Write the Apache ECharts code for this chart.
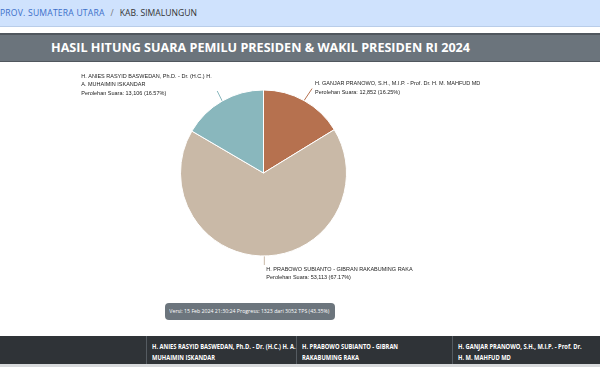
<!DOCTYPE html>
<html>
<head>
<meta charset="utf-8">
<script src="https://cdn.jsdelivr.net/npm/echarts@6/dist/echarts.min.js"></script>
<style>
  html, body { margin:0; padding:0; width:600px; height:367px; overflow:hidden; background:#fff; font-family:"Open Sans", sans-serif; }
  #crumb { position:absolute; left:0; top:0; width:600px; height:27px; background:#cfe2fd; border-bottom:1px solid #b9cde9; box-sizing:border-box; font-size:8.6px; line-height:27px; color:#333; white-space:nowrap; }
  #crumb .a { color:#3b6fc9; letter-spacing:0.2px; }
  #crumb .sep { color:#777; padding:0 6px 0 6px; }
  #title { position:absolute; left:0; top:33px; width:600px; height:29px; background:#6b747c; border-top:2px solid #50575e; border-bottom:1px solid #50575e; box-sizing:border-box; color:#fff; font-weight:700; font-size:12.6px; line-height:26px; padding-left:51px; white-space:nowrap; }
  #badge { position:absolute; left:165px; top:303px; width:170px; height:17px; background:#6c757d; border-radius:4px; color:#fff; font-size:6px; line-height:17px; white-space:nowrap; overflow:hidden; }
  #badge span { display:inline-block; transform-origin:0 50%; transform:scaleX(0.87); padding-left:5px; }
  #thead { position:absolute; left:0; top:336px; width:600px; height:31px; background:#2f3337; color:#fff; font-weight:700; font-size:6.4px; line-height:11px; }
  #thead .c { position:absolute; top:0; height:28px; border-left:1px solid #555b61; padding:5px 0 0 5px; box-sizing:border-box; white-space:nowrap; overflow:hidden; }
  #thead .c span { display:inline-block; transform-origin:0 0; transform:scaleX(0.9); }
  #thead .bot { position:absolute; left:0; top:28px; width:600px; height:3px; background:#d8dadc; }
  #chart { position:absolute; left:0; top:0; width:600px; height:367px; }
</style>
</head>
<body>
<div id="crumb"><span class="a">PROV. SUMATERA UTARA</span><span class="sep">/</span>KAB. SIMALUNGUN</div>
<div id="title">HASIL HITUNG SUARA PEMILU PRESIDEN &amp; WAKIL PRESIDEN RI 2024</div>
<div id="badge"><span>Versi: 15 Feb 2024 21:30:24 Progress: 1323 dari 3052 TPS (43.35%)</span></div>
<div id="thead">
  <div class="c" style="left:146px;width:151px"><span>H. ANIES RASYID BASWEDAN, Ph.D. - Dr. (H.C.) H. A.<br>MUHAIMIN ISKANDAR</span></div>
  <div class="c" style="left:296px;width:156px"><span>H. PRABOWO SUBIANTO - GIBRAN<br>RAKABUMING RAKA</span></div>
  <div class="c" style="left:452px;width:148px"><span>H. GANJAR PRANOWO, S.H., M.I.P. - Prof. Dr.<br>H. M. MAHFUD MD</span></div>
  <div class="bot"></div>
</div>
<div id="chart"></div>
<script>
const candidates = [
  "H. GANJAR PRANOWO, S.H., M.I.P. - Prof. Dr. H. M. MAHFUD MD",
  "H. PRABOWO SUBIANTO - GIBRAN RAKABUMING RAKA",
  "H. ANIES RASYID BASWEDAN, Ph.D. - Dr. (H.C.) H. A. MUHAIMIN ISKANDAR"
];
const votes = [12852, 53113, 13106];
const percents = ["16.25%", "67.17%", "16.57%"];
const colors = ["#b6714f", "#c9b9a7", "#89b7bd"];

const labelNames = [
  "H. GANJAR PRANOWO, S.H., M.I.P. - Prof. Dr. H. M. MAHFUD MD",
  "H. PRABOWO SUBIANTO - GIBRAN RAKABUMING RAKA",
  "H. ANIES RASYID BASWEDAN, Ph.D. - Dr. (H.C.) H.\nA. MUHAIMIN ISKANDAR"
];

const chart = echarts.init(document.getElementById('chart'), null, {renderer:'canvas'});
const fmt = n => n.toLocaleString('en-US');

// label offsets relative to the slice's label-line start point
const labelOffsets = [
  { line: [8, -12], text: [11, -21] },
  { line: [0, 9], text: [2, 9] },
  { line: [-5, -10], text: [-141, -29] }
];

chart.setOption({
  animation: false,
  series: [{
    type: 'pie',
    center: [263.5, 173],
    radius: 83,
    startAngle: 90,
    clockwise: true,
    data: candidates.map((c, i) => ({ name: c, value: votes[i], itemStyle: { color: colors[i] } })),
    itemStyle: { borderColor: '#fff', borderWidth: 1 },
    label: {
      show: true,
      color: '#222',
      fontFamily: 'Liberation Sans, Arial, sans-serif',
      fontSize: 5.5,
      lineHeight: 8.5,
      align: 'left',
      formatter: p => labelNames[p.dataIndex] + '\nPerolehan Suara: ' + fmt(votes[p.dataIndex]) + ' (' + percents[p.dataIndex] + ')'
    },
    labelLine: { show: true, length: 8, length2: 0, lineStyle: { width: 1 } },
    labelLayout: function (params) {
      const s = params.labelLinePoints[0];
      const o = labelOffsets[params.dataIndex];
      const e = [s[0] + o.line[0], s[1] + o.line[1]];
      return { x: s[0] + o.text[0], y: s[1] + o.text[1], align: 'left', verticalAlign: 'top', labelLinePoints: [s, e, e] };
    }
  }]
});
</script>
</body>
</html>
